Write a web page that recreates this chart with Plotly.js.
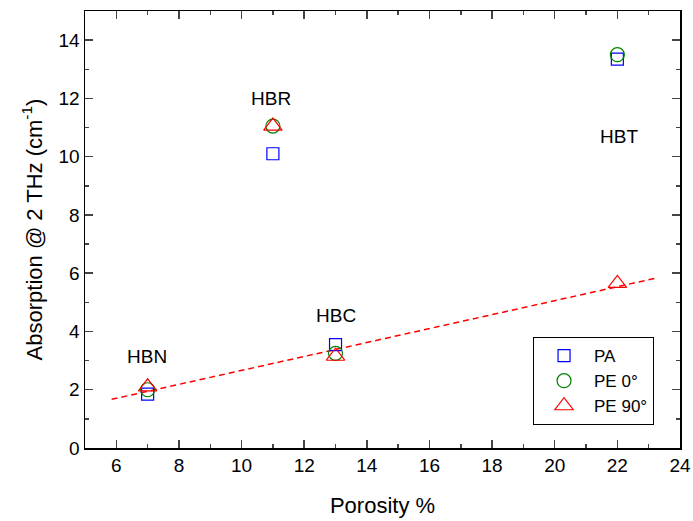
<!DOCTYPE html>
<html>
<head>
<meta charset="utf-8">
<script src="https://cdn.plot.ly/plotly-3.0.1.min.js"></script>
<style>html,body{margin:0;padding:0;background:#fff;}#chart{width:693px;height:521px;}</style>
</head>
<body>
<div id="chart"></div>
<script>
var porosity = [7, 11, 13, 22];
var samples = ["HBN", "HBR", "HBC", "HBT"];
var paValues = [1.85, 10.1, 3.55, 13.35];
var pe0Values = [2.0, 11.05, 3.25, 13.5];
var pe90Values = [2.1, 11.05, 3.15, 5.65];
var fitX = [5.85, 23.27];
var fitY = [1.67, 5.84];
var labelX = [6.97, 10.95, 13.0, 22.05];
var labelY = [3.15, 12.0, 4.55, 10.7];

var font = "Liberation Sans, Arial, sans-serif";

var traces = [
  {x: fitX, y: fitY, mode: "lines", showlegend: false, hoverinfo: "skip",
   line: {color: "#ff0000", width: 1.5, dash: "6px,4px"}},
  {x: porosity, y: paValues, mode: "markers", name: "PA",
   marker: {symbol: "square-open", size: 12, color: "#0000ff", line: {width: 1.2, color: "#0000ff"}}},
  {x: porosity, y: pe0Values, mode: "markers", name: "PE 0°",
   marker: {symbol: "circle-open", size: 14, color: "#008000", line: {width: 1.2, color: "#008000"}}},
  {x: porosity, y: pe90Values, mode: "markers", name: "PE 90°",
   marker: {symbol: "triangle-up-open", size: 16, color: "#ff0000", line: {width: 1.2, color: "#ff0000"}}}
];

var annotations = samples.map(function (s, i) {
  return {x: labelX[i], y: labelY[i], xref: "x", yref: "y", text: s, showarrow: false,
          font: {family: font, size: 19, color: "#000"}};
});

var layout = {
  width: 693, height: 521,
  margin: {l: 85, r: 13, t: 11, b: 73},
  paper_bgcolor: "#fff", plot_bgcolor: "#fff",
  font: {family: font, color: "#000"},
  showlegend: true,
  legend: {x: 0.753, y: 0.254, xanchor: "left", yanchor: "top",
           bordercolor: "#000", borderwidth: 1, bgcolor: "#fff",
           font: {family: font, size: 17, color: "#000"}, itemwidth: 50,
           tracegroupgap: 0},
  xaxis: {range: [5, 24], dtick: 2, tick0: 6, ticks: "inside", ticklen: 8, tickwidth: 1.5,
          showline: true, linecolor: "#000", linewidth: 1.5, mirror: "ticks",
          showgrid: false, zeroline: false,
          tickfont: {family: font, size: 19, color: "#000"},
          minor: {dtick: 1, ticks: "inside", ticklen: 4, tickwidth: 1.5, showgrid: false},
          title: {text: "Porosity %", font: {family: font, size: 22, color: "#000"}, standoff: 22}},
  yaxis: {range: [0, 15], dtick: 2, ticks: "inside", ticklen: 8, tickwidth: 1.5,
          showline: true, linecolor: "#000", linewidth: 1.5, mirror: "ticks",
          showgrid: false, zeroline: false,
          tickfont: {family: font, size: 19, color: "#000"},
          minor: {dtick: 1, ticks: "inside", ticklen: 4, tickwidth: 1.5, showgrid: false},
          title: {text: "Absorption @ 2 THz (cm<sup>-1</sup>)", font: {family: font, size: 22, color: "#000"}, standoff: 10}},
  annotations: annotations
};

Plotly.newPlot("chart", traces, layout, {displayModeBar: false, staticPlot: true});
</script>
</body>
</html>
